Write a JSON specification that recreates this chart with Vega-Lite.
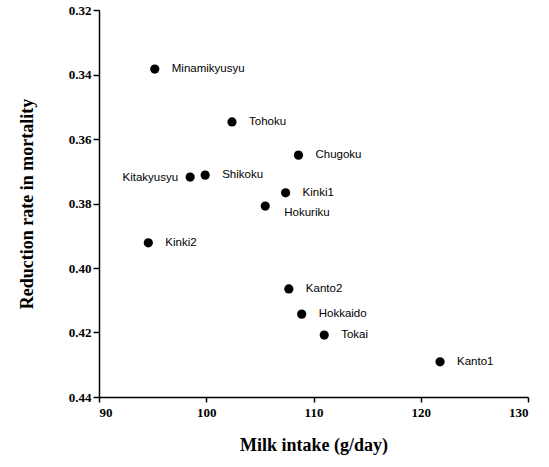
{
  "$schema": "https://vega.github.io/schema/vega-lite/v6.json",
  "width": 429,
  "height": 387,
  "autosize": "none",
  "padding": {"left": 99, "top": 10, "right": 21, "bottom": 70},
  "background": "white",
  "config": {"view": {"stroke": null}},
  "data": {"values": [
    {"region": "Minamikyusyu", "milk": 95.2, "rate": 0.3383},
    {"region": "Tohoku", "milk": 102.4, "rate": 0.3547},
    {"region": "Chugoku", "milk": 108.6, "rate": 0.365},
    {"region": "Kitakyusyu", "milk": 98.5, "rate": 0.3718},
    {"region": "Shikoku", "milk": 99.9, "rate": 0.3712},
    {"region": "Kinki1", "milk": 107.4, "rate": 0.3767},
    {"region": "Hokuriku", "milk": 105.5, "rate": 0.3808},
    {"region": "Kinki2", "milk": 94.6, "rate": 0.3922},
    {"region": "Kanto2", "milk": 107.7, "rate": 0.4065},
    {"region": "Hokkaido", "milk": 108.9, "rate": 0.4143},
    {"region": "Tokai", "milk": 111.0, "rate": 0.4208},
    {"region": "Kanto1", "milk": 121.8, "rate": 0.4291}
  ]},
  "encoding": {
    "x": {"field": "milk", "type": "quantitative",
      "scale": {"domain": [90, 130], "nice": false, "zero": false},
      "axis": {"values": [90, 100, 110, 120, 130], "grid": false, "title": "Milk intake (g/day)",
        "domainColor": "black", "domainWidth": 1.5, "tickColor": "black", "tickWidth": 1.5, "tickSize": 5,
        "labelFont": "Liberation Serif", "labelFontWeight": 700, "labelFontSize": 13, "labelColor": "black", "labelPadding": 4,
        "titleFont": "Liberation Serif", "titleFontWeight": 700, "titleFontSize": 18, "titleColor": "black", "titlePadding": 17}},
    "y": {"field": "rate", "type": "quantitative",
      "scale": {"domain": [0.32, 0.44], "nice": false, "zero": false, "reverse": true},
      "axis": {"values": [0.32, 0.34, 0.36, 0.38, 0.40, 0.42, 0.44], "format": ".2f", "grid": false, "title": "Reduction rate in  mortality",
        "domainColor": "black", "domainWidth": 1.5, "tickColor": "black", "tickWidth": 1.5, "tickSize": 6,
        "labelFont": "Liberation Serif", "labelFontWeight": 700, "labelFontSize": 13, "labelColor": "black", "labelPadding": 2,
        "titleFont": "Liberation Serif", "titleFontWeight": 700, "titleFontSize": 18, "titleColor": "black", "titlePadding": 32}}
  },
  "layer": [
    {"mark": {"type": "point", "filled": true, "color": "black", "size": 85, "opacity": 1}},
    {"transform": [{"filter": "datum.region !== 'Kitakyusyu' && datum.region !== 'Hokuriku'"}],
     "mark": {"type": "text", "align": "left", "dx": 17, "dy": 0, "font": "Liberation Sans", "fontSize": 11.5, "color": "black"},
     "encoding": {"text": {"field": "region"}}},
    {"transform": [{"filter": "datum.region === 'Kitakyusyu'"}],
     "mark": {"type": "text", "align": "right", "dx": -12, "dy": 1, "font": "Liberation Sans", "fontSize": 11.5, "color": "black"},
     "encoding": {"text": {"field": "region"}}},
    {"transform": [{"filter": "datum.region === 'Hokuriku'"}],
     "mark": {"type": "text", "align": "left", "dx": 19, "dy": 7, "font": "Liberation Sans", "fontSize": 11.5, "color": "black"},
     "encoding": {"text": {"field": "region"}}}
  ]
}
